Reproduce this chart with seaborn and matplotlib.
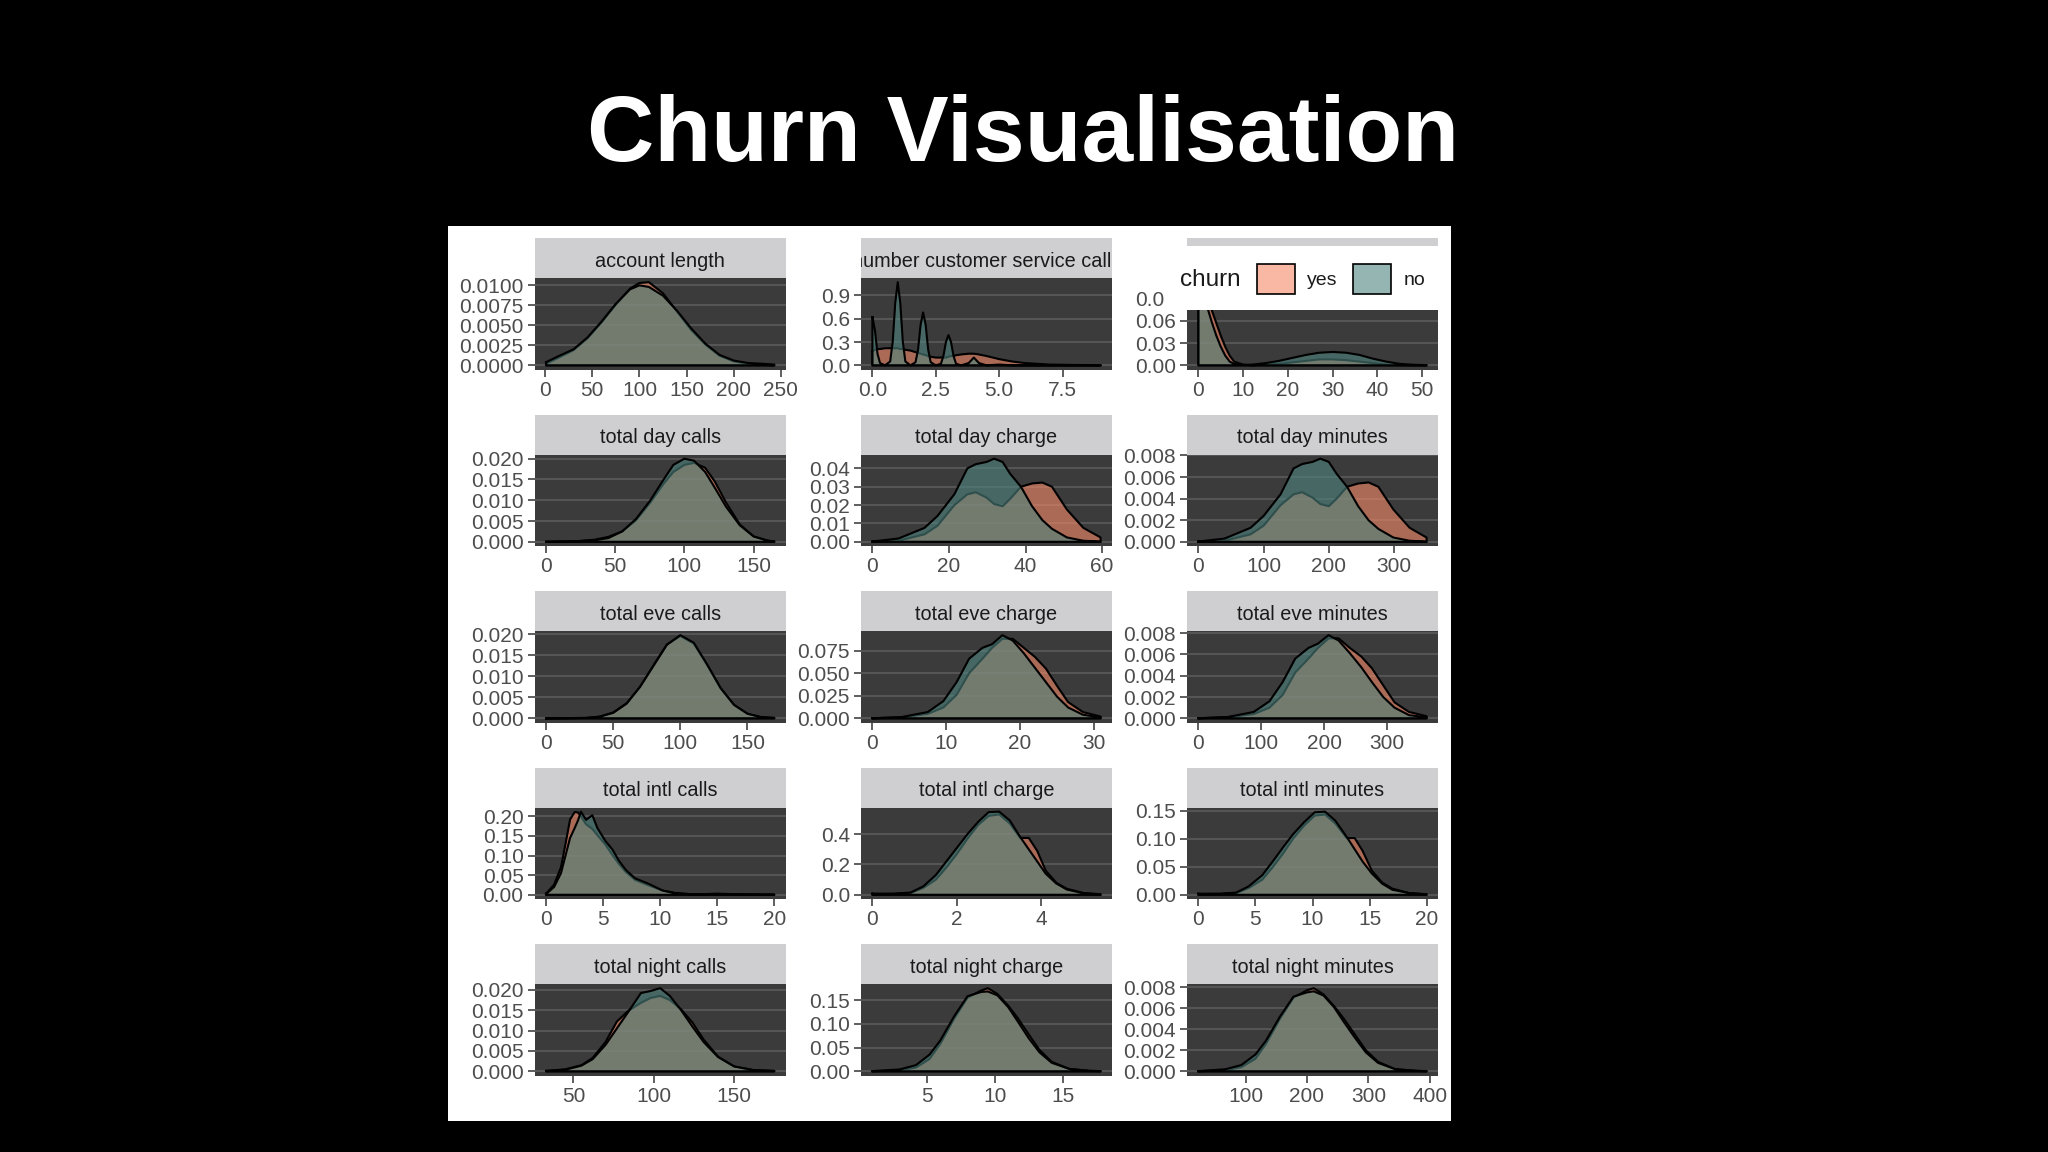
import matplotlib
matplotlib.use("Agg")
import matplotlib.pyplot as plt
from matplotlib.patches import Rectangle, Patch
import seaborn as sns

# --- density curves read off the original facets (x grid, churn=yes, churn=no) ---
account_length_x = [1, 15, 30, 45, 60, 75, 90, 100, 110, 125, 140, 155, 170, 185, 200, 215, 230, 243]
account_length_yes = [0.0002, 0.0010, 0.0019, 0.0034, 0.0054, 0.0076, 0.0096, 0.0103, 0.0104, 0.0090,
                      0.0067, 0.0044, 0.0026, 0.0012, 0.0005, 0.0002, 0.0001, 0.0000]
account_length_no = [0.0004, 0.0012, 0.0020, 0.0035, 0.0055, 0.0077, 0.0095, 0.0100, 0.0098, 0.0087,
                     0.0068, 0.0046, 0.0027, 0.0013, 0.0006, 0.0003, 0.0002, 0.0001]

service_calls_x = [0.0, 0.1, 0.2, 0.3, 0.5, 0.7, 0.8, 0.9, 1.0, 1.1, 1.2, 1.3, 1.5, 1.7, 1.8, 1.9, 2.0, 2.1,
                   2.2, 2.3, 2.5, 2.7, 2.8, 2.9, 3.0, 3.1, 3.2, 3.3, 3.5, 3.8, 4.0, 4.2, 4.5, 5.0, 5.5, 6.0,
                   7.0, 8.0, 9.0]
service_calls_yes = [0.18, 0.20, 0.21, 0.21, 0.22, 0.22, 0.22, 0.22, 0.22, 0.21, 0.21, 0.20, 0.19, 0.17,
                     0.16, 0.15, 0.14, 0.13, 0.12, 0.11, 0.10, 0.10, 0.10, 0.10, 0.11, 0.12, 0.12, 0.13,
                     0.14, 0.15, 0.15, 0.14, 0.12, 0.08, 0.05, 0.03, 0.01, 0.005, 0.002]
service_calls_no = [0.62, 0.45, 0.15, 0.03, 0.00, 0.05, 0.30, 0.80, 1.07, 0.80, 0.30, 0.05, 0.00, 0.04,
                    0.20, 0.52, 0.68, 0.52, 0.20, 0.04, 0.00, 0.02, 0.12, 0.30, 0.39, 0.30, 0.12, 0.02,
                    0.00, 0.03, 0.10, 0.03, 0.00, 0.01, 0.00, 0.00, 0.00, 0.00, 0.00]

vmail_x = [0, 1, 2, 3, 4, 5, 6, 7, 8, 10, 12, 15, 18, 21, 24, 27, 30, 33, 36, 39, 42, 45, 48, 51]
vmail_yes = [0.112, 0.105, 0.092, 0.074, 0.057, 0.040, 0.025, 0.013, 0.005, 0.001, 0.000, 0.001, 0.002,
             0.004, 0.006, 0.008, 0.008, 0.007, 0.005, 0.003, 0.001, 0.0005, 0.0002, 0.0001]
vmail_no = [0.095, 0.090, 0.078, 0.058, 0.040, 0.025, 0.013, 0.005, 0.002, 0.0005, 0.001, 0.003, 0.006,
            0.010, 0.014, 0.017, 0.018, 0.017, 0.014, 0.009, 0.005, 0.002, 0.0008, 0.0003]

day_calls_x = [0, 20, 35, 45, 55, 65, 75, 85, 92, 100, 107, 115, 122, 130, 140, 150, 160, 165]
day_calls_yes = [0.0000, 0.0001, 0.0005, 0.0012, 0.0025, 0.0052, 0.0093, 0.0140, 0.0168, 0.0185, 0.0190,
                 0.0178, 0.0145, 0.0095, 0.0042, 0.0013, 0.0003, 0.0001]
day_calls_no = [0.0000, 0.0001, 0.0004, 0.0009, 0.0025, 0.0055, 0.0098, 0.0150, 0.0185, 0.0200, 0.0195,
                0.0168, 0.0130, 0.0085, 0.0040, 0.0013, 0.0003, 0.0001]

day_charge_x = [0, 6.8, 13.6, 17, 21.4, 24.8, 27, 29.8, 31.8, 34, 36, 38.8, 41.7, 44.4, 46.9, 50.8, 55.1, 59.6]
day_charge_yes = [0.0, 0.0006, 0.0041, 0.0088, 0.0200, 0.0259, 0.0270, 0.0241, 0.0206, 0.0194, 0.0235,
                  0.0300, 0.0318, 0.0323, 0.0300, 0.0176, 0.0076, 0.0024]
day_charge_no = [0.0002, 0.0018, 0.0076, 0.0141, 0.0259, 0.0400, 0.0423, 0.0435, 0.0453, 0.0435, 0.0370,
                 0.0300, 0.0194, 0.0118, 0.0071, 0.0024, 0.0006, 0.0001]

day_minutes_x = [0, 40, 80, 100, 126, 146, 159, 175, 187, 200, 212, 228, 245, 261, 276, 299, 324, 350]
day_minutes_yes = [0.0, 0.0001, 0.0007, 0.0015, 0.0034, 0.0044, 0.0046, 0.0041, 0.0035, 0.0033, 0.0040,
                   0.0051, 0.0054, 0.0055, 0.0051, 0.0030, 0.0013, 0.0004]
day_minutes_no = [0.00003, 0.0003, 0.0013, 0.0024, 0.0044, 0.0068, 0.0072, 0.0074, 0.0077, 0.0074, 0.0063,
                  0.0051, 0.0033, 0.0020, 0.0012, 0.0004, 0.0001, 0.00002]

eve_calls_x = [0, 30, 40, 50, 60, 70, 80, 90, 100, 110, 120, 130, 140, 150, 160, 170]
eve_calls_yes = [0.0000, 0.0001, 0.0004, 0.0014, 0.0036, 0.0075, 0.0126, 0.0176, 0.0196, 0.0178, 0.0127,
                 0.0072, 0.0032, 0.0011, 0.0003, 0.0001]
eve_calls_no = [0.0000, 0.0001, 0.0004, 0.0013, 0.0035, 0.0075, 0.0125, 0.0175, 0.0198, 0.0180, 0.0128,
                0.0072, 0.0032, 0.0011, 0.0003, 0.0001]

eve_charge_x = [0, 4, 7.5, 9.6, 11.4, 13.1, 14.9, 16.2, 17.6, 19, 20.5, 22, 23.5, 25, 26.5, 28.5, 30.9]
eve_charge_yes = [0.0001, 0.0010, 0.005, 0.012, 0.026, 0.050, 0.066, 0.078, 0.088, 0.088, 0.078, 0.068,
                  0.055, 0.036, 0.018, 0.007, 0.002]
eve_charge_no = [0.0001, 0.0015, 0.007, 0.019, 0.040, 0.066, 0.078, 0.082, 0.092, 0.086, 0.072, 0.056,
                 0.040, 0.024, 0.012, 0.004, 0.001]

eve_minutes_x = [0, 47, 88, 113, 134, 154, 175, 190, 207, 223, 241, 259, 276, 294, 312, 335, 363]
eve_minutes_yes = [0.00001, 0.0001, 0.0004, 0.0010, 0.0022, 0.0043, 0.0056, 0.0066, 0.0075, 0.0075, 0.0066,
                   0.0058, 0.0047, 0.0031, 0.0015, 0.0006, 0.0002]
eve_minutes_no = [0.00001, 0.00013, 0.0006, 0.0016, 0.0034, 0.0056, 0.0066, 0.0070, 0.0078, 0.0073, 0.0061,
                  0.0048, 0.0034, 0.0020, 0.0010, 0.0003, 0.0001]

intl_calls_x = [0, 0.7, 1.3, 1.7, 2.1, 2.5, 2.8, 3.05, 3.5, 4.05, 4.5, 5.2, 5.8, 6.4, 7.0, 7.8, 9.0, 10.2,
                11.3, 12.5, 14.0, 15.0, 16.3, 18.0, 20.0]
intl_calls_yes = [0.003, 0.026, 0.070, 0.130, 0.192, 0.211, 0.210, 0.200, 0.180, 0.168, 0.152, 0.128, 0.102,
                  0.078, 0.058, 0.038, 0.024, 0.011, 0.005, 0.002, 0.001, 0.002, 0.001, 0.0005, 0.0002]
intl_calls_no = [0.002, 0.020, 0.055, 0.100, 0.145, 0.170, 0.190, 0.212, 0.191, 0.203, 0.170, 0.137, 0.116,
                 0.086, 0.063, 0.042, 0.028, 0.011, 0.004, 0.002, 0.002, 0.003, 0.002, 0.001, 0.0005]

intl_charge_x = [0, 0.5, 0.9, 1.2, 1.5, 1.75, 2.0, 2.25, 2.5, 2.75, 3.0, 3.25, 3.5, 3.7, 3.9, 4.1, 4.35, 4.6,
                 5.0, 5.4]
intl_charge_yes = [0.005, 0.006, 0.012, 0.045, 0.10, 0.18, 0.27, 0.37, 0.46, 0.52, 0.53, 0.47, 0.375, 0.375,
                   0.29, 0.16, 0.08, 0.04, 0.012, 0.004]
intl_charge_no = [0.008, 0.008, 0.015, 0.055, 0.13, 0.22, 0.31, 0.40, 0.48, 0.545, 0.548, 0.49, 0.38, 0.30,
                  0.22, 0.14, 0.075, 0.035, 0.010, 0.003]

intl_minutes_x = [0, 1.85, 3.3, 4.4, 5.6, 6.5, 7.4, 8.3, 9.3, 10.2, 11.1, 12.0, 13.0, 13.7, 14.4, 15.2, 16.1,
                  17.0, 18.5, 20.0]
intl_minutes_yes = [0.0014, 0.0016, 0.003, 0.012, 0.027, 0.049, 0.073, 0.100, 0.124, 0.141, 0.143, 0.127,
                    0.101, 0.101, 0.078, 0.043, 0.022, 0.011, 0.003, 0.001]
intl_minutes_no = [0.002, 0.002, 0.004, 0.015, 0.035, 0.059, 0.084, 0.108, 0.130, 0.147, 0.148, 0.132,
                   0.103, 0.081, 0.059, 0.038, 0.020, 0.009, 0.003, 0.001]

night_calls_x = [33, 45, 55, 62, 70, 77, 84, 92, 98, 104, 110, 117, 124, 131, 140, 150, 162, 175]
night_calls_yes = [0.0001, 0.0005, 0.0015, 0.0033, 0.0072, 0.0122, 0.0148, 0.0168, 0.0180, 0.0185, 0.0175,
                   0.0152, 0.0120, 0.0078, 0.0036, 0.0012, 0.0003, 0.0001]
night_calls_no = [0.0001, 0.0004, 0.0014, 0.0030, 0.0065, 0.0105, 0.0145, 0.0192, 0.0197, 0.0204, 0.0185,
                  0.0150, 0.0110, 0.0072, 0.0035, 0.0012, 0.0003, 0.0001]

night_charge_x = [1.0, 3.0, 4.2, 5.2, 6.0, 7.0, 8.0, 9.0, 9.5, 10.2, 11.0, 11.7, 12.5, 13.3, 14.2, 15.5, 17.0, 17.8]
night_charge_yes = [0.0003, 0.002, 0.008, 0.026, 0.058, 0.110, 0.155, 0.170, 0.175, 0.163, 0.138, 0.112,
                    0.078, 0.045, 0.020, 0.005, 0.001, 0.0005]
night_charge_no = [0.0005, 0.004, 0.013, 0.035, 0.065, 0.115, 0.158, 0.167, 0.168, 0.160, 0.135, 0.105,
                   0.070, 0.040, 0.018, 0.005, 0.001, 0.0005]

night_minutes_x = [23, 67, 93, 116, 133, 156, 178, 200, 211, 227, 244, 260, 278, 296, 316, 344, 378, 395]
night_minutes_yes = [0.00001, 0.0001, 0.0004, 0.0012, 0.0026, 0.0050, 0.0070, 0.0077, 0.0079, 0.0073,
                     0.0062, 0.0050, 0.0035, 0.0020, 0.0009, 0.0002, 0.00005, 0.00002]
night_minutes_no = [0.00002, 0.0002, 0.0006, 0.0016, 0.0029, 0.0052, 0.0071, 0.0075, 0.0076, 0.0072,
                    0.0061, 0.0047, 0.0032, 0.0018, 0.0008, 0.0002, 0.00005, 0.00002]

# facet titles and axis breaks
facet_titles = ["account length", "number customer service calls", "number vmail messages",
                "total day calls", "total day charge", "total day minutes",
                "total eve calls", "total eve charge", "total eve minutes",
                "total intl calls", "total intl charge", "total intl minutes",
                "total night calls", "total night charge", "total night minutes"]
x_breaks = [[0, 50, 100, 150, 200, 250], [0, 2.5, 5, 7.5], [0, 10, 20, 30, 40, 50],
            [0, 50, 100, 150], [0, 20, 40, 60], [0, 100, 200, 300],
            [0, 50, 100, 150], [0, 10, 20, 30], [0, 100, 200, 300],
            [0, 5, 10, 15, 20], [0, 2, 4], [0, 5, 10, 15, 20],
            [50, 100, 150], [5, 10, 15], [100, 200, 300, 400]]
x_decimals = [0, 1, 0, 0, 0, 0, 0, 0, 0, 0, 0, 0, 0, 0, 0]
y_breaks = [[0, 0.0025, 0.005, 0.0075, 0.01], [0, 0.3, 0.6, 0.9], [0, 0.03, 0.06, 0.09],
            [0, 0.005, 0.01, 0.015, 0.02], [0, 0.01, 0.02, 0.03, 0.04], [0, 0.002, 0.004, 0.006, 0.008],
            [0, 0.005, 0.01, 0.015, 0.02], [0, 0.025, 0.05, 0.075], [0, 0.002, 0.004, 0.006, 0.008],
            [0, 0.05, 0.1, 0.15, 0.2], [0, 0.2, 0.4], [0, 0.05, 0.1, 0.15],
            [0, 0.005, 0.01, 0.015, 0.02], [0, 0.05, 0.1, 0.15], [0, 0.002, 0.004, 0.006, 0.008]]
y_decimals = [4, 1, 2, 3, 2, 3, 3, 3, 3, 2, 1, 2, 3, 2, 3]

curves = [
    (account_length_x, account_length_yes, account_length_no),
    (service_calls_x, service_calls_yes, service_calls_no),
    (vmail_x, vmail_yes, vmail_no),
    (day_calls_x, day_calls_yes, day_calls_no),
    (day_charge_x, day_charge_yes, day_charge_no),
    (day_minutes_x, day_minutes_yes, day_minutes_no),
    (eve_calls_x, eve_calls_yes, eve_calls_no),
    (eve_charge_x, eve_charge_yes, eve_charge_no),
    (eve_minutes_x, eve_minutes_yes, eve_minutes_no),
    (intl_calls_x, intl_calls_yes, intl_calls_no),
    (intl_charge_x, intl_charge_yes, intl_charge_no),
    (intl_minutes_x, intl_minutes_yes, intl_minutes_no),
    (night_calls_x, night_calls_yes, night_calls_no),
    (night_charge_x, night_charge_yes, night_charge_no),
    (night_minutes_x, night_minutes_yes, night_minutes_no),
]

# --- style ---
W, H = 2048, 1152
FONT = "Liberation Sans"
YES_COL = "#F58A68"
NO_COL = "#4F8580"
ALPHA = 0.6
PANEL_BG = "#3B3B3B"
GRID_COL = "#585858"
STRIP_BG = "#CFCFD1"

COL_LEFT = [534.7, 861, 1187]
PANEL_W = 251
ROW_TOP = [278, 454.5, 631, 807.5, 984]
PANEL_H = 91.5
STRIP_H = 40


def px_box(left, top, w, h):
    return [left / W, 1 - (top + h) / H, w / W, h / H]


def draw_density(ax, x, y, color, z):
    ax.fill_between(x, 0, y, color=color, alpha=ALPHA, lw=0, zorder=z)
    # ggplot outlines the whole polygon, baseline included
    cx = list(x) + [x[-1], x[0], x[0]]
    cy = list(y) + [0, 0, y[0]]
    sns.lineplot(x=cx, y=cy, sort=False, estimator=None, color="black", lw=1.5,
                 ax=ax, legend=False, zorder=z + 0.1)


fig = plt.figure(figsize=(W / 100, H / 100), dpi=100, facecolor="black")

# white slide panel holding the ggplot figure
fig.patches.append(Rectangle((448 / W, 1 - 1121 / H), 1003 / W, 895 / H,
                             transform=fig.transFigure, facecolor="white", edgecolor="none", zorder=-1))

fig.text(0.4995, 1 - 161 / H, "Churn Visualisation", color="white", fontsize=67,
         fontweight="bold", family=FONT, ha="center", va="baseline")

for i, (title, (x, yes, no)) in enumerate(zip(facet_titles, curves)):
    r, c = divmod(i, 3)
    left, top = COL_LEFT[c], ROW_TOP[r]

    ax = fig.add_axes(px_box(left, top, PANEL_W, PANEL_H))
    ax.set_facecolor(PANEL_BG)
    draw_density(ax, x, yes, YES_COL, 2)
    draw_density(ax, x, no, NO_COL, 2.2)

    xr = max(x) - min(x)
    ymax = max(max(yes), max(no))
    ax.set_xlim(min(x) - 0.05 * xr, max(x) + 0.05 * xr)
    ax.set_ylim(-0.05 * ymax, 1.05 * ymax)

    ax.set_xticks(x_breaks[i])
    ax.set_xticklabels([f"{v:.{x_decimals[i]}f}" for v in x_breaks[i]])
    ax.set_yticks(y_breaks[i])
    ax.set_yticklabels([f"{v:.{y_decimals[i]}f}" for v in y_breaks[i]])
    ax.tick_params(axis="both", length=5, width=1.1, color="#333333", labelcolor="#4D4D4D",
                   labelsize=15, pad=3)
    for lab in ax.get_xticklabels() + ax.get_yticklabels():
        lab.set_family(FONT)
    ax.set_axisbelow(True)
    ax.yaxis.grid(True, color=GRID_COL, lw=1.3)
    ax.xaxis.grid(False)
    for s in ax.spines.values():
        s.set_visible(False)
    ax.set_xlabel("")
    ax.set_ylabel("")

    sax = fig.add_axes(px_box(left, top - STRIP_H, PANEL_W, STRIP_H))
    sax.set_facecolor(STRIP_BG)
    sax.set_xticks([])
    sax.set_yticks([])
    for s in sax.spines.values():
        s.set_visible(False)
    sax.text(0.5, 0.42, title, ha="center", va="center", fontsize=14.3, color="#1A1A1A",
             family=FONT, transform=sax.transAxes, clip_on=True)

# legend box sitting on top of the third facet, as in the original
fig.patches.append(Rectangle((1165 / W, 1 - 310 / H), (1451 - 1165) / W, (310 - 246) / H,
                             transform=fig.transFigure, facecolor="white", edgecolor="none", zorder=10))
fig.text(1180 / W, 1 - 280 / H, "churn", fontsize=17.5, color="#1A1A1A", family=FONT,
         ha="left", va="center", zorder=11)
handles = [Patch(facecolor=matplotlib.colors.to_rgba(YES_COL, ALPHA), edgecolor="black", lw=1.2),
           Patch(facecolor=matplotlib.colors.to_rgba(NO_COL, ALPHA), edgecolor="black", lw=1.2)]
leg = fig.legend(handles, ["yes", "no"], ncol=2, loc="center left",
                 bbox_to_anchor=(1247 / W, 1 - 279 / H), frameon=False, borderpad=0,
                 handlelength=1.95, handleheight=1.95, handletextpad=0.65, columnspacing=0.8,
                 prop={"family": FONT, "size": 14})
for t in leg.get_texts():
    t.set_color("#1A1A1A")
leg.set_zorder(11)

fig.savefig("out.png", dpi=100, facecolor="black")
